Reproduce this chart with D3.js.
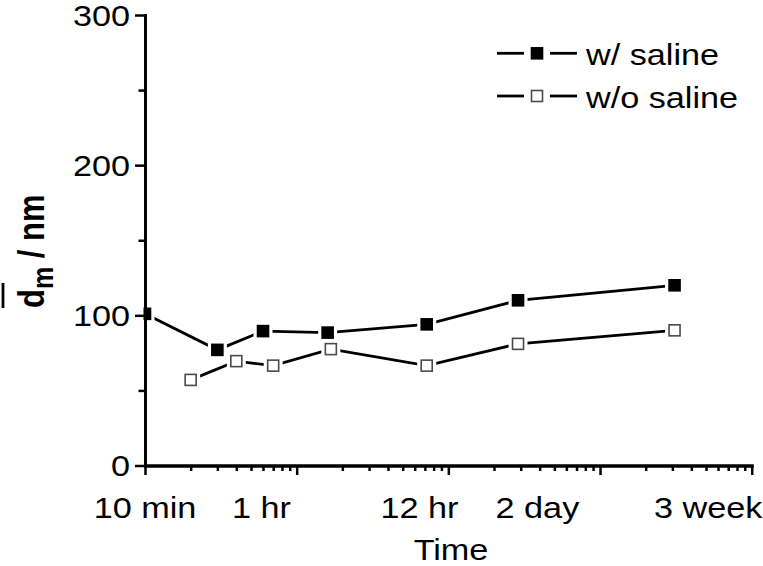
<!DOCTYPE html>
<html><head><meta charset="utf-8">
<script src="https://cdn.jsdelivr.net/npm/d3@7"></script>
<style>body{margin:0;background:#fff}text{font-family:"Liberation Sans",Arial,sans-serif;fill:#000}</style>
</head><body>
<svg id="chart" width="763" height="566"></svg>
<script>
// ---- data (time in minutes, size in nm) ----
const withTimes = [10, 30, 60, 160, 720, 2880, 31000];
const withValues = [101, 77, 89.5, 88.5, 94, 110, 120];
const withoutTimes = [20, 40, 70, 168, 720, 2880, 31000];
const withoutValues = [57, 69.5, 66.5, 77.5, 66.5, 81, 90];
const seriesNames = ["w/ saline", "w/o saline"];
const xTickLabels = ["10 min", "1 hr", "12 hr", "2 day", "3 week"];
const xTickLabelAt = [10, 58.5, 645, 3865, 51650];
const xMajorTicks = [10, 100, 1000, 10000, 100000];
const yTicks = [0, 100, 200, 300];
const yMinorTicks = [50, 150, 250];

const svg = d3.select("#chart");
svg.append("rect").attr("width", 763).attr("height", 566).attr("fill", "#fff");

const x = d3.scaleLog().domain([10, 100000]).range([145, 751.7]);
const y = d3.scaleLinear().domain([0, 300]).range([465.5, 15]);
const SX = 1.18; // horizontal stretch of the reference
const FS = 29;

const xMinorTicks = [];
xMajorTicks.slice(0, -1).forEach(d => { for (let k = 2; k <= 9; k++) xMinorTicks.push(d * k); });

svg.append("defs").append("clipPath").attr("id", "plotclip")
  .append("rect").attr("x", 143.5).attr("y", 0).attr("width", 640).attr("height", 470);

const plot = svg.append("g").attr("clip-path", "url(#plotclip)");
const series = [
  {t: withTimes, v: withValues, filled: true},
  {t: withoutTimes, v: withoutValues, filled: false}
];
const line = d3.line().x(d => x(d[0])).y(d => y(d[1]));
series.forEach(s => {
  const pts = s.t.map((t, i) => [t, s.v[i]]);
  plot.append("path").datum(pts).attr("d", line)
    .attr("fill", "none").attr("stroke", "#000").attr("stroke-width", 2.8);
});
const MS = 12.6, HALO = 19;
series.forEach(s => {
  const pts = s.t.map((t, i) => [t, s.v[i]]);
  plot.selectAll(null).data(pts).enter().append("rect")
    .attr("x", d => x(d[0]) - HALO / 2).attr("y", d => y(d[1]) - HALO / 2)
    .attr("width", HALO).attr("height", HALO).attr("fill", "#fff");
});
series.forEach(s => {
  const pts = s.t.map((t, i) => [t, s.v[i]]);
  if (s.filled) {
    plot.selectAll(null).data(pts).enter().append("rect")
      .attr("x", d => x(d[0]) - MS / 2).attr("y", d => y(d[1]) - MS / 2)
      .attr("width", MS).attr("height", MS).attr("fill", "#000");
  } else {
    const m = MS - 1.6;
    plot.selectAll(null).data(pts).enter().append("rect")
      .attr("x", d => x(d[0]) - m / 2).attr("y", d => y(d[1]) - m / 2)
      .attr("width", m).attr("height", m).attr("fill", "#fff")
      .attr("stroke", "#4a4a4a").attr("stroke-width", 1.6);
  }
});

// ---- axes ----
function styleAxis(g) {
  g.selectAll(".domain").attr("stroke", "#000").attr("stroke-width", 2.8).attr("stroke-linecap", "square");
  g.selectAll(".tick line").attr("stroke", "#000").attr("stroke-width", 2.5);
}
svg.append("g").attr("transform", `translate(0,${y(0)})`)
  .call(d3.axisBottom(x).tickValues(xMinorTicks).tickSize(5.5).tickSizeOuter(0).tickFormat(""))
  .call(styleAxis);
svg.append("g").attr("transform", `translate(0,${y(0)})`)
  .call(d3.axisBottom(x).tickValues(xMajorTicks).tickSize(9.5).tickSizeOuter(0).tickFormat(""))
  .call(styleAxis);
svg.append("g").attr("transform", `translate(${x(10)},0)`)
  .call(d3.axisLeft(y).tickValues(yMinorTicks).tickSize(6.5).tickSizeOuter(0).tickFormat(""))
  .call(styleAxis);
svg.append("g").attr("transform", `translate(${x(10)},0)`)
  .call(d3.axisLeft(y).tickValues(yTicks).tickSize(10).tickSizeOuter(0).tickFormat(""))
  .call(styleAxis);

// tick labels
yTicks.forEach(v => {
  svg.append("text").attr("transform", `translate(130,${y(v) + 10.5}) scale(${SX},1)`)
    .attr("text-anchor", "end").attr("font-size", FS).text(v);
});
xTickLabels.forEach((lab, i) => {
  svg.append("text").attr("transform", `translate(${x(xTickLabelAt[i])},518) scale(${SX},1)`)
    .attr("text-anchor", "middle").attr("font-size", FS).text(lab);
});
svg.append("text").attr("transform", `translate(451,560) scale(${SX},1)`)
  .attr("text-anchor", "middle").attr("font-size", FS).text("Time");

// y-axis title: overline d, subscript m
const yt = svg.append("text")
  .attr("transform", `translate(43.5,308) scale(1.2,1) rotate(-90)`)
  .attr("font-size", 31).attr("font-weight", "bold");
yt.append("tspan").text("d");
yt.append("tspan").attr("font-size", 25).attr("dy", 8).text("m");
yt.append("tspan").attr("dy", -8).text(" / nm");
svg.append("line").attr("x1", 3).attr("x2", 3).attr("y1", 283).attr("y2", 308)
  .attr("stroke", "#000").attr("stroke-width", 2.8);

// ---- legend ----
const legRows = [53.3, 96];
seriesNames.forEach((name, i) => {
  const ly = legRows[i];
  const g = svg.append("g");
  g.append("line").attr("x1", 497).attr("x2", 524).attr("y1", ly).attr("y2", ly).attr("stroke", "#000").attr("stroke-width", 2.8);
  g.append("line").attr("x1", 550).attr("x2", 577).attr("y1", ly).attr("y2", ly).attr("stroke", "#000").attr("stroke-width", 2.8);
  if (series[i].filled) {
    g.append("rect").attr("x", 537 - MS / 2).attr("y", ly - MS / 2).attr("width", MS).attr("height", MS).attr("fill", "#000");
  } else {
    const m = MS - 1.6;
    g.append("rect").attr("x", 537 - m / 2).attr("y", ly - m / 2).attr("width", m).attr("height", m)
      .attr("fill", "#fff").attr("stroke", "#4a4a4a").attr("stroke-width", 1.6);
  }
  g.append("text").attr("transform", `translate(586,${ly + 11.5}) scale(${SX},1)`)
    .attr("font-size", FS).text(name);
});
</script>
</body></html>
